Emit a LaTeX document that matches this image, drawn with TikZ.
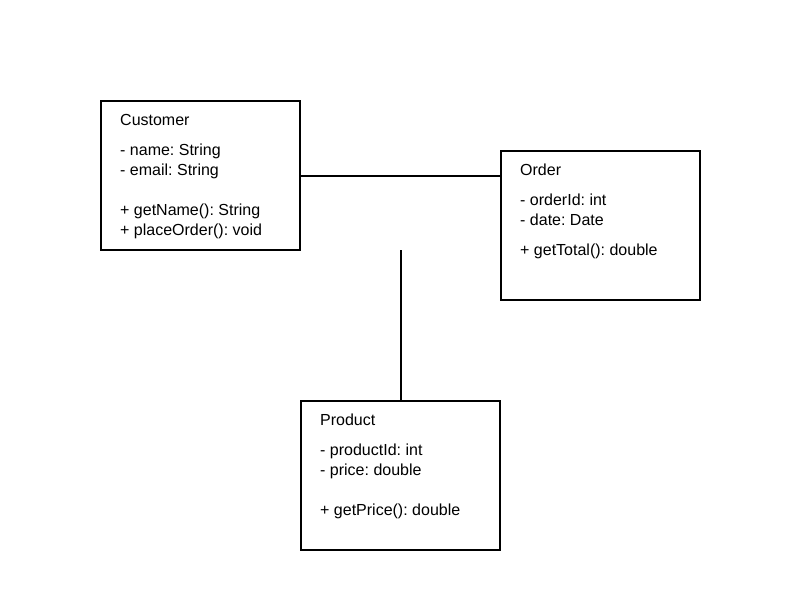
\documentclass[tikz,border=0pt]{standalone}
\usepackage{fontspec}
\setmainfont{Liberation Sans}
\frenchspacing
\begin{document}
\begin{tikzpicture}[x=1pt,y=-1pt,
  classbox/.style={draw=black,line width=2pt,fill=white,minimum width=199pt,minimum height=149pt,inner sep=0pt},
  member/.style={anchor=base west,inner sep=0pt,font=\fontsize{16}{19}\selectfont},
  link/.style={draw=black,line width=2pt}]
\useasboundingbox[fill=white] (0,0) rectangle (800,600);
\node[classbox] (customer) at (200.5,175.5) {};
\node[classbox] (order) at (600.5,225.5) {};
\node[classbox] (product) at (400.5,475.5) {};
% Customer
\node[member] (c1) at (120,125) {Customer};
\node[member] (c2) at (120,155) {- name: String};
\node[member] (c3) at (120,175) {- email: String};
\node[member] (c4) at (120,215) {+ getName(): String};
\node[member] (c5) at (120,235) {+ placeOrder(): void};
% Order
\node[member] (o1) at (520,175) {Order};
\node[member] (o2) at (520,205) {- orderId: int};
\node[member] (o3) at (520,225) {- date: Date};
\node[member] (o4) at (520,255) {+ getTotal(): double};
% Product
\node[member] (p1) at (320,425) {Product};
\node[member] (p2) at (320,455) {- productId: int};
\node[member] (p3) at (320,475) {- price: double};
\node[member] (p4) at (320,515) {+ getPrice(): double};
% connectors
\coordinate (assocend) at (400.5,250);
\draw[link] (customer.east) -- (customer.east -| order.west);
\draw[link] (assocend) -- (product.north);
\end{tikzpicture}
\end{document}
